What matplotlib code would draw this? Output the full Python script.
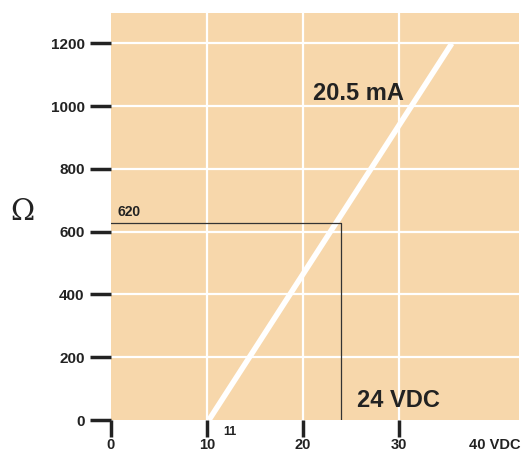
import matplotlib
matplotlib.use("Agg")
import matplotlib.pyplot as plt

# resistance vs supply voltage at 20.5 mA
volts = [10.2, 35.5]
ohms = [0, 1200]

# operating point marked on the chart
v_op = 24
r_op = 628

xticks = [0, 10, 20, 30, 40]
xlabels = ['0', '10', '20', '30', '40 VDC']
yticks = [0, 200, 400, 600, 800, 1000, 1200]

plt.rcParams['font.family'] = ['Liberation Sans', 'DejaVu Sans']

fig = plt.figure(figsize=(5.25, 4.55), dpi=100)
ax = fig.add_axes([0.2114, 0.0769, 0.7772, 0.8945])
ax.set_facecolor('#F7D7AB')

ax.set_xlim(0, 42.5)
ax.set_ylim(0, 1297)

for x in [10, 20, 30]:
    ax.axvline(x, color='white', lw=1.6, zorder=1)
for y in yticks[1:]:
    ax.axhline(y, color='white', lw=1.6, zorder=1)

ax.plot(volts, ohms, color='white', lw=4, solid_capstyle='butt', zorder=2)

# operating point guides
ax.plot([0, v_op, v_op], [r_op, r_op, 0], color='#333333', lw=0.9, zorder=3)

for s in ax.spines.values():
    s.set_visible(False)

ax.set_xticks(xticks)
ax.set_xticklabels(xlabels, fontsize=10.5, fontweight='bold', color='#222222')
ax.set_yticks(yticks)
ax.set_yticklabels([str(v) for v in yticks], fontsize=11, fontweight='bold', color='#222222')
ax.tick_params(axis='x', length=12, width=2.5, color='#222222', pad=1)
ax.tick_params(axis='y', length=15, width=2.5, color='#222222', pad=4)
ax.xaxis.get_major_ticks()[-1].tick1line.set_visible(False)

ax.text(0.7, r_op + 14, '620', fontsize=10, fontweight='bold', color='#222222',
        va='bottom', ha='left')
ax.text(25.8, 1040, '20.5 mA', fontsize=17, fontweight='bold', color='#222222',
        ha='center', va='center')
ax.text(29.9, 62, '24 VDC', fontsize=17, fontweight='bold', color='#222222',
        ha='center', va='center')
ax.text(12.4, -38, '11', fontsize=9, fontweight='bold', color='#222222',
        ha='center', va='center', clip_on=False)

fig.text(22 / 525, 1 - 212 / 455, 'Ω', fontsize=21, family='DejaVu Serif',
         color='#222222', ha='center', va='center')

fig.savefig('out.png', dpi=100)
